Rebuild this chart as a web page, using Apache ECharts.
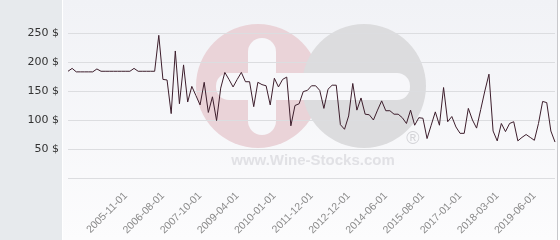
<!DOCTYPE html>
<html>
<head>
<meta charset="utf-8">
<script src="https://cdn.jsdelivr.net/npm/echarts@6/dist/echarts.min.js"></script>
<style>
html,body{margin:0;padding:0;background:#fff;}
#chart{width:560px;height:240px;}
</style>
</head>
<body>
<div id="chart"></div>
<script>
// Price series (USD)
const prices = [
  184, 189, 183, 183, 183, 183, 183, 188, 184, 184,
  184, 184, 184, 184, 184, 184, 189, 184, 184, 184,
  184, 184, 246, 170, 169, 111, 219, 128, 195, 131,
  158, 142, 126, 165, 113, 140, 99, 155, 182, 170,
  157, 170, 182, 166, 166, 123, 165, 161, 159, 126,
  172, 157, 170, 174, 90, 125, 128, 149, 151, 159,
  159, 151, 120, 153, 160, 160, 92, 84, 107, 163,
  117, 138, 110, 109, 100, 117, 133, 116, 116, 110,
  110, 104, 94, 117, 91, 104, 103, 68, 91, 114,
  91, 156, 97, 106, 88, 77, 77, 120, 100, 86,
  118, 150, 179, 81, 64, 94, 80, 94, 97, 64,
  70, 75, 70, 65, 94, 132, 130, 81, 62
];
// Dates shown on the x axis
const tickLabels = ['2005-11-01','2006-08-01','2007-10-01','2009-04-01','2010-01-01','2011-12-01',
  '2012-12-01','2014-06-01','2015-08-01','2017-01-01','2018-03-01','2019-06-01'];
const tickStart = 14;
const tickStep = 9;
const yTicks = [0, 50, 100, 150, 200, 250];

const categories = prices.map((_, i) => 'p' + i);
function isTick(i) { return i >= tickStart && (i - tickStart) % tickStep === 0; }

const chart = echarts.init(document.getElementById('chart'), null, {renderer: 'canvas'});
chart.setOption({
  animation: false,
  backgroundColor: '#ffffff',
  graphic: [
    {type: 'rect', z: -100, silent: true, shape: {x: 0, y: 0, width: 62, height: 240}, style: {fill: '#e7eaed'}},
    {type: 'rect', z: -100, silent: true, shape: {x: 63, y: 0, width: 494, height: 240},
      style: {fill: new echarts.graphic.LinearGradient(0, 0, 0, 1, [{offset: 0, color: '#f1f2f6'}, {offset: 1, color: '#fcfcfd'}])}},
    {type: 'rect', z: -100, silent: true, shape: {x: 557, y: 0, width: 1, height: 240}, style: {fill: '#c8c8cc'}},
    // watermark
    {type: 'circle', z: -50, silent: true, shape: {cx: 258, cy: 86, r: 62}, style: {fill: '#ead3d8'}},
    {type: 'circle', z: -49, silent: true, shape: {cx: 364, cy: 86, r: 62}, style: {fill: '#dcdcde'}},
    {type: 'rect', z: -48, silent: true, shape: {x: 248, y: 38, width: 28, height: 97, r: 14}, style: {fill: '#f7f7fa'}},
    {type: 'rect', z: -48, silent: true, shape: {x: 216, y: 73, width: 194, height: 27, r: 13}, style: {fill: '#f7f7fa'}},
    {type: 'text', z: -48, silent: true, style: {x: 313, y: 161, text: 'www.Wine-Stocks.com', fill: '#e1e1e5',
      font: 'bold 15px "Liberation Sans", Arial, sans-serif', textAlign: 'center', textVerticalAlign: 'middle'}},
    {type: 'text', z: -48, silent: true, style: {x: 413, y: 139, text: '®', fill: '#d4d4d8',
      font: '18px "Liberation Sans", Arial, sans-serif', textAlign: 'center', textVerticalAlign: 'middle'}}
  ],
  grid: {left: 68, right: 5, top: 33, bottom: 62, containLabel: false},
  xAxis: {
    type: 'category',
    data: categories,
    boundaryGap: false,
    axisLine: {show: false},
    axisTick: {show: false},
    splitLine: {show: false},
    axisLabel: {
      interval: (i) => isTick(i),
      rotate: 45,
      margin: 16,
      color: '#8a8a8a',
      fontSize: 10.5,
      fontFamily: '"Liberation Sans", Arial, sans-serif',
      formatter: (v, i) => isTick(i) ? tickLabels[(i - tickStart) / tickStep] : ''
    }
  },
  yAxis: {
    type: 'value',
    min: yTicks[0],
    max: yTicks[yTicks.length - 1],
    interval: 50,
    axisLine: {show: false},
    axisTick: {show: false},
    splitLine: {lineStyle: {color: '#dcdde0', width: 1}},
    axisLabel: {
      margin: 9,
      color: '#333333',
      fontSize: 11,
      fontFamily: '"DejaVu Sans", sans-serif',
      formatter: (v) => v === 0 ? '' : v + ' $'
    }
  },
  series: [{
    type: 'line',
    data: prices,
    symbol: 'none',
    lineStyle: {color: '#3d1e2c', width: 1},
    z: 5
  }]
});
</script>
</body>
</html>
